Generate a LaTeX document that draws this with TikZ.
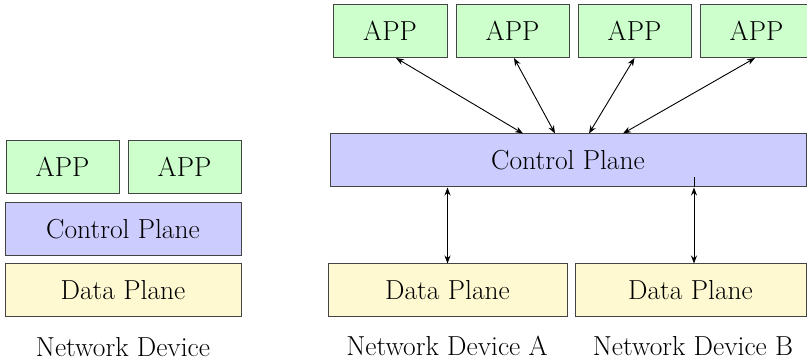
\documentclass[tikz,border=0pt]{standalone}
\usetikzlibrary{arrows.meta}
\definecolor{appc}{HTML}{CCFFCC}
\definecolor{cpc}{HTML}{CCCCFF}
\definecolor{dpc}{HTML}{FFF9D2}
\definecolor{edge}{HTML}{444444}
\begin{document}
\begin{tikzpicture}[x=1pt,y=-1pt,
  box/.style={draw=edge,line width=1pt,inner sep=0pt,font=\fontsize{27.5}{32}\selectfont},
  appbox/.style={box,fill=appc,minimum height=53pt},
  cpbox/.style={box,fill=cpc,minimum height=53pt},
  dpbox/.style={box,fill=dpc,minimum height=53pt},
  lbl/.style={inner sep=0pt,font=\fontsize{27.5}{32}\selectfont},
  arr/.style={line width=0.9pt,{Stealth[length=8pt,width=6pt]}-{Stealth[length=8pt,width=6pt]}}]
\useasboundingbox (0,0) rectangle (807,363);
% left device
\node[appbox,minimum width=113pt] (l1) at (62.5,167) {APP};
\node[appbox,minimum width=113pt] (l2) at (184.5,167) {APP};
\node[cpbox,minimum width=236pt] (lcp) at (123,229) {Control Plane};
\node[dpbox,minimum width=236pt] (ldp) at (123,290.5) {Data Plane};
\node[lbl] (lnd) at (123,347) {Network Device};
% right
\node[appbox,minimum width=114pt] (a1) at (390,31) {APP};
\node[appbox,minimum width=113pt] (a2) at (512.5,31) {APP};
\node[appbox,minimum width=113pt] (a3) at (634.5,31) {APP};
\node[appbox,minimum width=113pt] (a4) at (756.5,31) {APP};
\node[cpbox,minimum width=476pt] (cp) at (568,160.5) {Control Plane};
\node[dpbox,minimum width=239pt] (dpa) at (447.5,290.5) {Data Plane};
\node[dpbox,minimum width=231pt] (dpb) at (690.5,290.5) {Data Plane};
\node[lbl] (nda) at (447,346) {Network Device A};
\node[lbl] (ndb) at (693,346) {Network Device B};
% arrows
\draw[arr] ([xshift=6pt]a1.south) -- ([xshift=-45pt]cp.north);
\draw[arr] ([xshift=1.5pt]a2.south) -- ([xshift=-13pt]cp.north);
\draw[arr] (a3.south) -- ([xshift=21pt]cp.north);
\draw[arr] ([xshift=-1.5pt]a4.south) -- ([xshift=55pt]cp.north);
\draw[arr] (dpa.north) -- (dpa.north |- cp.south);
\coordinate (bt) at ([xshift=3.5pt]dpb.north |- cp.south);
\draw[arr] ([xshift=3.5pt]dpb.north) -- (bt);
\draw[line width=0.9pt] (bt) -- ++(0,-10);
\end{tikzpicture}
\end{document}
